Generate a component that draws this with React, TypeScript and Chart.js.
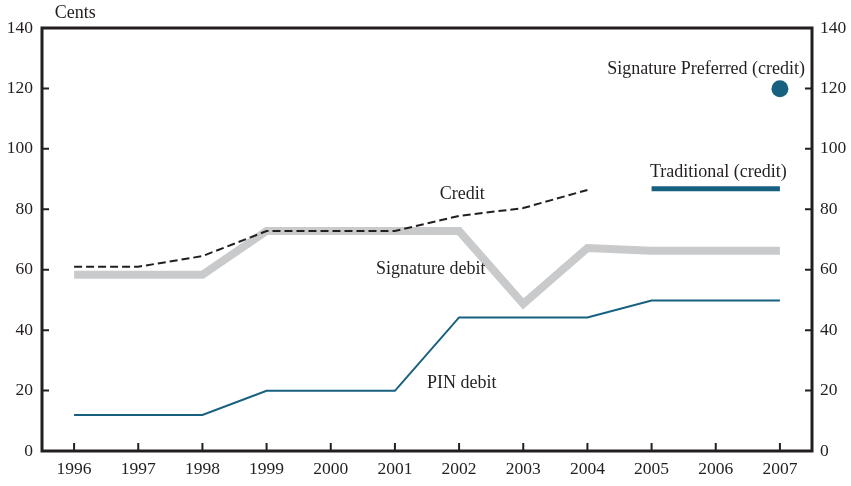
import React, { useEffect, useRef } from "react";
import { Chart, registerables } from "chart.js";

Chart.register(...registerables);

const years = ["1996", "1997", "1998", "1999", "2000", "2001", "2002", "2003", "2004", "2005", "2006", "2007"];
const creditValues = [61, 61, 64.5, 72.8, 72.8, 72.8, 77.8, 80.4, 86.4, null, null, null];
const signatureDebitValues = [58.3, 58.3, 58.3, 72.8, 72.8, 72.8, 72.8, 48.7, 67.2, 66.3, 66.3, 66.3];
const pinDebitValues = [11.9, 11.9, 11.9, 19.9, 19.9, 19.9, 44.2, 44.2, 44.2, 49.8, 49.8, 49.8];
const traditionalCreditValues = [null, null, null, null, null, null, null, null, null, 86.8, 86.8, 86.8];
const signaturePreferredValues = [null, null, null, null, null, null, null, null, null, null, null, 119.9];
const yTicks = [0, 20, 40, 60, 80, 100, 120, 140];

// Text annotations placed in data coordinates (category index, value)
const annotationTexts = ["Cents", "Credit", "Signature debit", "PIN debit", "Traditional (credit)", "Signature Preferred (credit)"];
const annotationX = [0.02, 6.05, 5.56, 6.04, 10.04, 9.85];
const annotationY = [144.8, 85.1, 60, 22.5, 92.3, 126.5];

const INK = "#231f20";
const TEAL = "#17607f";
const GRAY = "#c9cacb";
const FONT = "'Liberation Serif', 'Times New Roman', serif";

const framePlugin = {
  id: "frameAndTicks",
  afterDatasetsDraw(chart: any) {
    const { ctx, chartArea, scales } = chart;
    const { left, right, top, bottom } = chartArea;
    ctx.save();
    ctx.strokeStyle = INK;
    ctx.lineWidth = 2;
    const y = scales.y;
    yTicks.forEach((v) => {
      const py = y.getPixelForValue(v);
      ctx.beginPath();
      ctx.moveTo(left, py);
      ctx.lineTo(left + 7, py);
      ctx.moveTo(right, py);
      ctx.lineTo(right - 7, py);
      ctx.stroke();
    });
    const x = scales.x;
    years.forEach((_, i) => {
      const px = x.getPixelForValue(i);
      ctx.beginPath();
      ctx.moveTo(px, bottom);
      ctx.lineTo(px, bottom - 8);
      ctx.stroke();
    });
    ctx.lineWidth = 3;
    ctx.strokeRect(left, top, right - left, bottom - top);

    ctx.fillStyle = INK;
    ctx.font = `18px ${FONT}`;
    ctx.textAlign = "center";
    ctx.textBaseline = "middle";
    annotationTexts.forEach((t, i) => {
      ctx.fillText(t, x.getPixelForValue(annotationX[i]), y.getPixelForValue(annotationY[i]));
    });
    ctx.restore();
  },
};

const tickFont = { family: FONT, size: 17.5 };

export default function App() {
  const ref = useRef<HTMLCanvasElement | null>(null);
  useEffect(() => {
    if (!ref.current) return;
    const chart = new Chart(ref.current, {
      type: "line",
      data: {
        labels: years,
        datasets: [
          {
            label: "Credit",
            data: creditValues,
            borderColor: INK,
            borderWidth: 2,
            borderDash: [8, 4],
            pointRadius: 0,
            order: 0,
            tension: 0,
          },
          {
            label: "Signature Preferred (credit)",
            data: signaturePreferredValues,
            borderColor: TEAL,
            backgroundColor: TEAL,
            showLine: false,
            pointRadius: 8.5,
            pointBorderWidth: 0,
            order: 1,
          },
          {
            label: "Traditional (credit)",
            data: traditionalCreditValues,
            borderColor: TEAL,
            borderWidth: 5,
            borderCapStyle: "butt",
            pointRadius: 0,
            order: 1,
          },
          {
            label: "PIN debit",
            data: pinDebitValues,
            borderColor: TEAL,
            borderWidth: 2,
            pointRadius: 0,
            order: 1,
          },
          {
            label: "Signature debit",
            data: signatureDebitValues,
            borderColor: GRAY,
            borderWidth: 8,
            borderCapStyle: "butt",
            borderJoinStyle: "miter",
            pointRadius: 0,
            order: 3,
          },
        ],
      },
      options: {
        animation: false,
        responsive: true,
        maintainAspectRatio: false,
        layout: { padding: { top: 28, left: 0, right: 0, bottom: 0 } },
        plugins: { legend: { display: false }, tooltip: { enabled: false } },
        scales: {
          x: {
            type: "category",
            offset: true,
            grid: { display: false, drawTicks: false, tickLength: 0 },
            border: { display: false },
            ticks: { color: INK, font: tickFont, padding: 8, maxRotation: 0, autoSkip: false },
            afterFit(scale: any) {
              scale.height = 35;
            },
          },
          y: {
            position: "left",
            min: 0,
            max: 140,
            grid: { display: false, drawTicks: false, tickLength: 0 },
            border: { display: false },
            ticks: { stepSize: 20, color: INK, font: tickFont, padding: 9 },
            afterFit(scale: any) {
              scale.width = 42;
            },
          },
          y2: {
            position: "right",
            min: 0,
            max: 140,
            grid: { display: false, drawTicks: false, tickLength: 0 },
            border: { display: false },
            ticks: { stepSize: 20, color: INK, font: tickFont, padding: 8 },
            afterFit(scale: any) {
              scale.width = 39;
            },
          },
        },
      },
      plugins: [framePlugin],
    });
    return () => chart.destroy();
  }, []);
  return (
    <div style={{ position: "absolute", left: 0, top: 0, width: 851, height: 486 }}>
      <canvas ref={ref} />
    </div>
  );
}
